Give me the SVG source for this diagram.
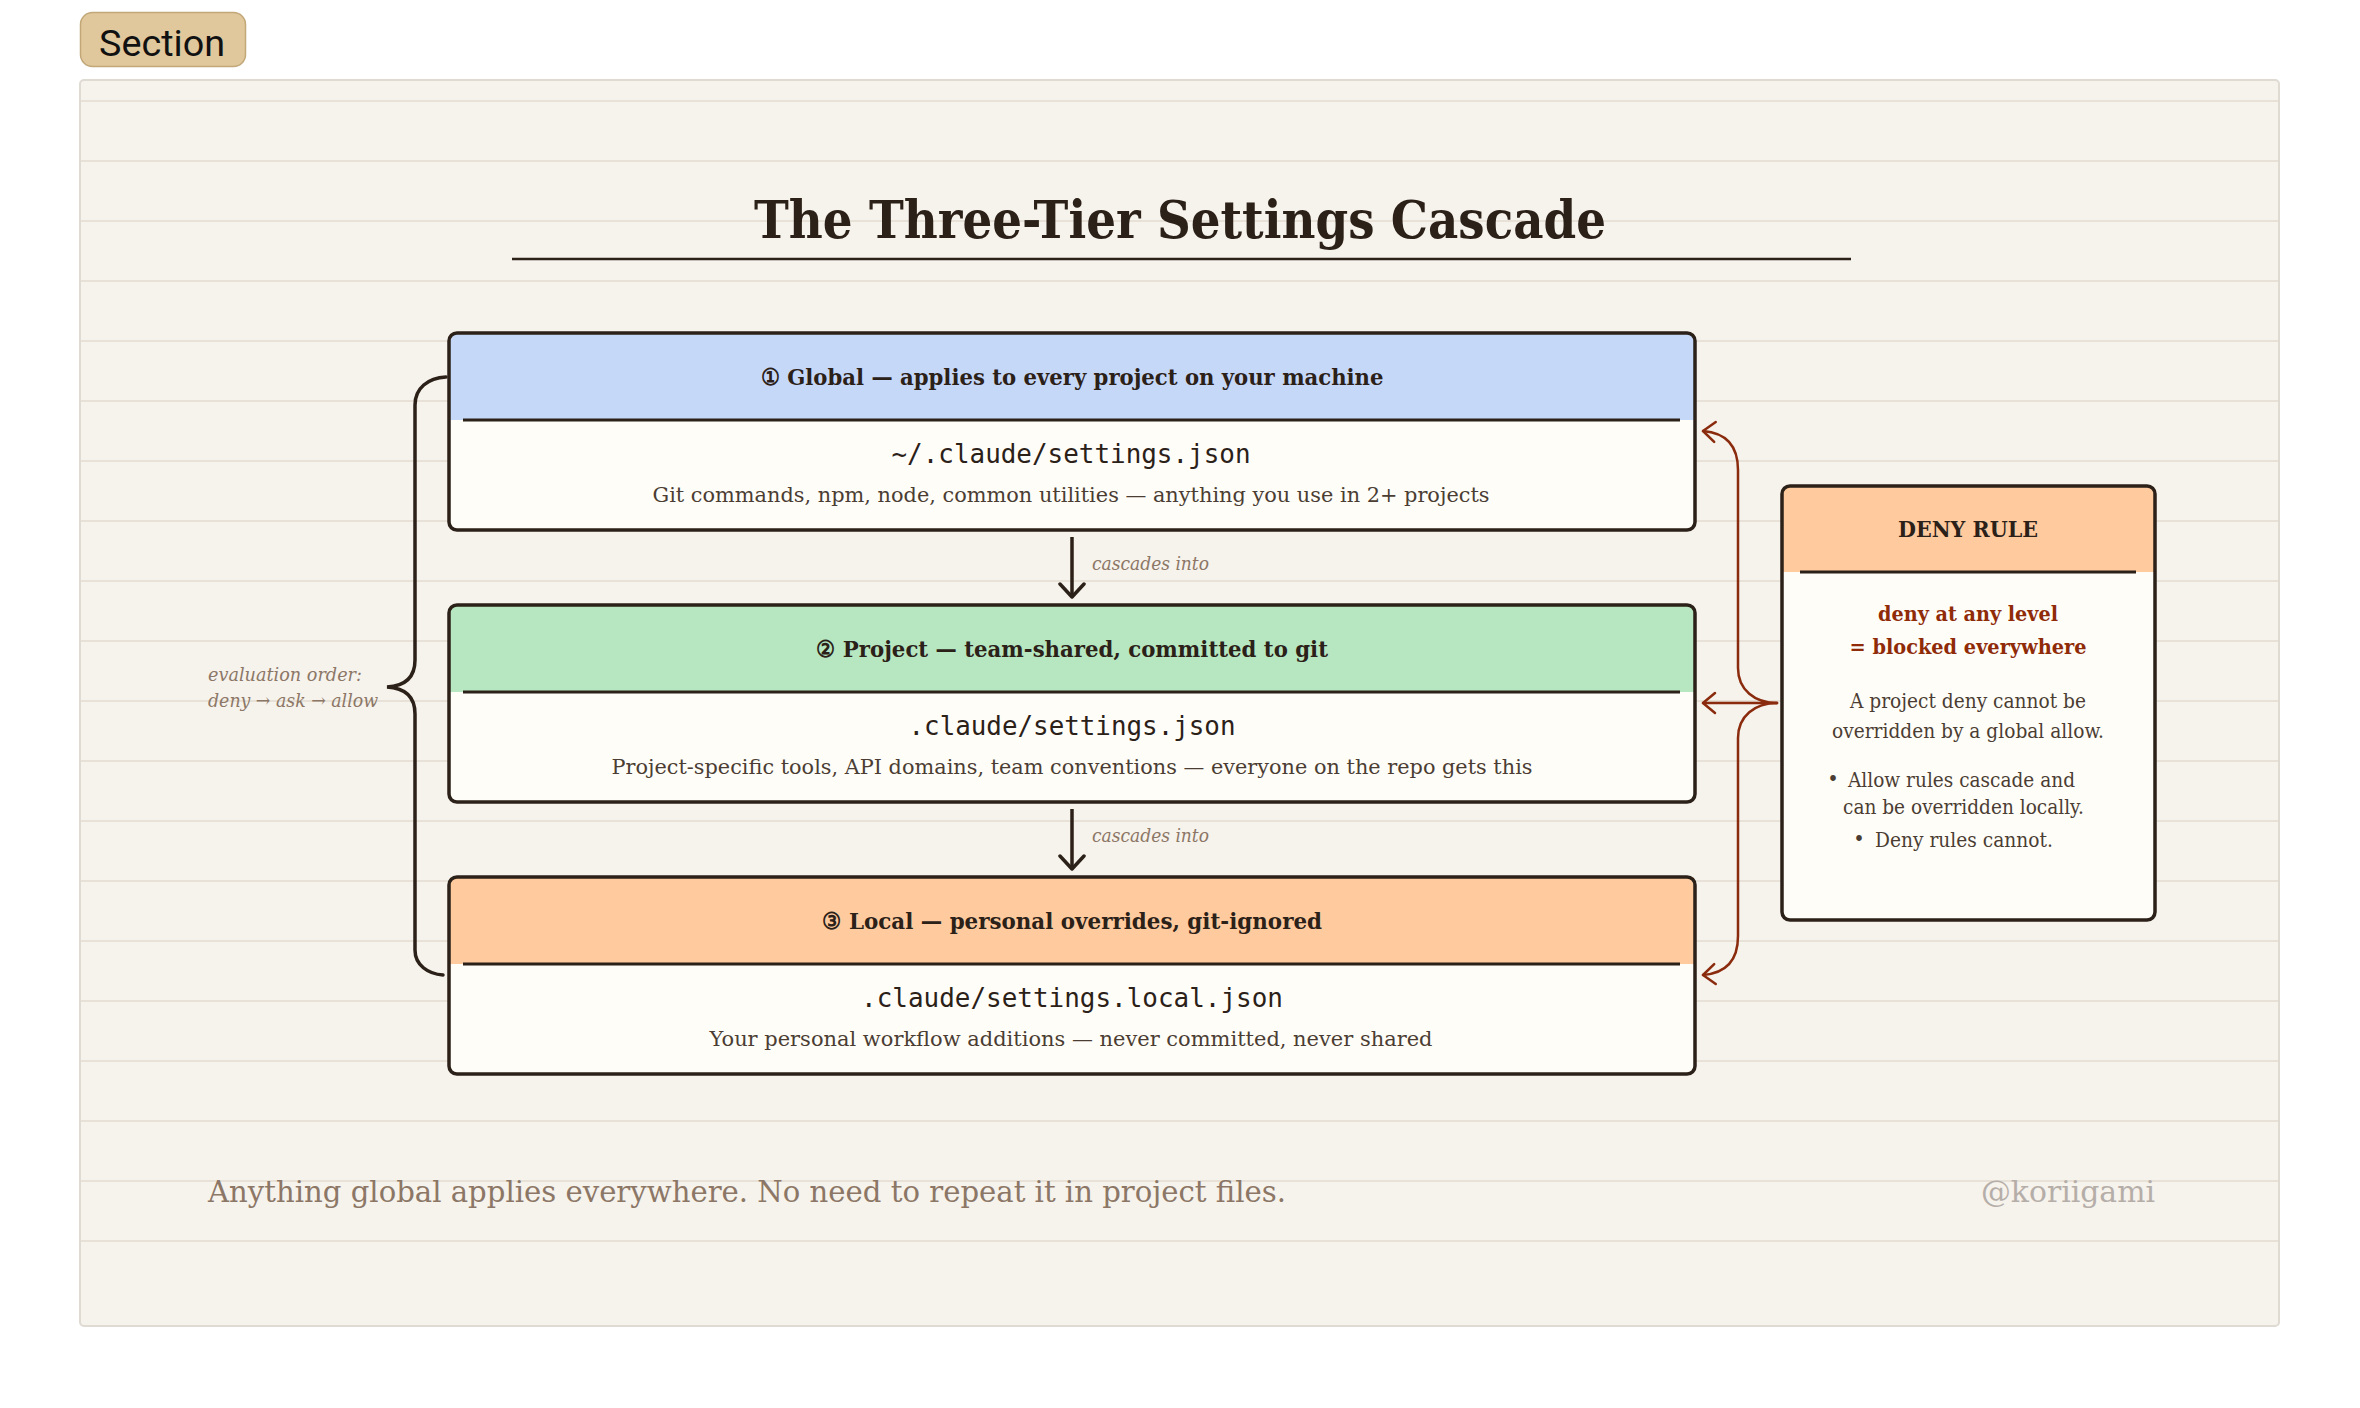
<svg xmlns="http://www.w3.org/2000/svg" width="2360" height="1408" viewBox="0 0 2360 1408">
<defs>
<style>
.serif{font-family:"DejaVu Serif","Liberation Serif",serif}
.mono{font-family:"DejaVu Sans Mono","Liberation Mono",monospace;font-size:26px;fill:#2b2118}
.grid{stroke:#e7e1d7;stroke-width:2}
.box{fill:none;stroke:#2b2118;stroke-width:3.5}
.body{fill:#fffdf8}
.div{stroke:#2b2118;stroke-width:2.8}
.hdr{font-family:"DejaVu Serif","Liberation Serif",serif;font-weight:bold;font-size:23px;fill:#2b2118}
.desc{font-family:"DejaVu Serif","Liberation Serif",serif;font-size:21px;fill:#4b3d33}
.muted{font-family:"DejaVu Serif","Liberation Serif",serif;font-style:italic;font-size:19px;fill:#8c7766}
.note{font-family:"DejaVu Serif","Liberation Serif",serif;font-size:19.5px;fill:#4b3d33}
.red{font-family:"DejaVu Serif","Liberation Serif",serif;font-weight:bold;font-size:21px;fill:#8f2b08}
</style>
<marker id="ah-dark" viewBox="-16 -14 20 28" refX="0" refY="0" markerWidth="20" markerHeight="28" markerUnits="userSpaceOnUse" orient="auto">
<path d="M-13,-12 L0,0 L-13,12" fill="none" stroke="#2b2118" stroke-width="3.5" stroke-linecap="round" stroke-linejoin="round"/>
</marker>
<marker id="ah-red" viewBox="-16 -13 20 26" refX="0" refY="0" markerWidth="20" markerHeight="26" markerUnits="userSpaceOnUse" orient="auto">
<path d="M-12,-10 L0,0 L-12,10" fill="none" stroke="#8a2b0d" stroke-width="2.5" stroke-linecap="round" stroke-linejoin="round"/>
</marker>
</defs>
<rect width="2360" height="1408" fill="#ffffff"/>

<g id="section-badge">
<rect x="80.5" y="12.5" width="165" height="54" rx="12" fill="#e0c89c" stroke="#c2a878" stroke-width="1.5"/>
<text x="162" y="56" text-anchor="middle" font-family="Roboto,'Liberation Sans',sans-serif" font-size="36" fill="#111111" textLength="126" lengthAdjust="spacingAndGlyphs">Section</text>
</g>

<g id="panel">
<rect x="80" y="80" width="2199" height="1246" rx="4" fill="#f6f2ec" stroke="#dfdad2" stroke-width="2"/>
<g class="grid">
<line x1="81" y1="101" x2="2278" y2="101"/><line x1="81" y1="161" x2="2278" y2="161"/><line x1="81" y1="221" x2="2278" y2="221"/><line x1="81" y1="281" x2="2278" y2="281"/><line x1="81" y1="341" x2="2278" y2="341"/><line x1="81" y1="401" x2="2278" y2="401"/><line x1="81" y1="461" x2="2278" y2="461"/><line x1="81" y1="521" x2="2278" y2="521"/><line x1="81" y1="581" x2="2278" y2="581"/><line x1="81" y1="641" x2="2278" y2="641"/><line x1="81" y1="701" x2="2278" y2="701"/><line x1="81" y1="761" x2="2278" y2="761"/><line x1="81" y1="821" x2="2278" y2="821"/><line x1="81" y1="881" x2="2278" y2="881"/><line x1="81" y1="941" x2="2278" y2="941"/><line x1="81" y1="1001" x2="2278" y2="1001"/><line x1="81" y1="1061" x2="2278" y2="1061"/><line x1="81" y1="1121" x2="2278" y2="1121"/><line x1="81" y1="1181" x2="2278" y2="1181"/><line x1="81" y1="1241" x2="2278" y2="1241"/>
</g>
</g>

<g id="title">
<text x="1180" y="238" text-anchor="middle" class="serif" font-weight="bold" font-size="53" fill="#2b2118" textLength="852" lengthAdjust="spacingAndGlyphs">The Three-Tier Settings Cascade</text>
<line x1="512" y1="259" x2="1851" y2="259" stroke="#2b2118" stroke-width="2.7"/>
</g>

<g id="connectors">
<line x1="1072" y1="537" x2="1072" y2="597" stroke="#2b2118" stroke-width="3.5" marker-end="url(#ah-dark)"/>
<text x="1092" y="570" class="muted" textLength="117" lengthAdjust="spacingAndGlyphs">cascades into</text>
<line x1="1072" y1="809" x2="1072" y2="869" stroke="#2b2118" stroke-width="3.5" marker-end="url(#ah-dark)"/>
<text x="1092" y="842" class="muted" textLength="117" lengthAdjust="spacingAndGlyphs">cascades into</text>
<path d="M446,377 C428,378 415,388 415,405 L415,660 C415,678 405,686 387,687 C405,688 415,696 415,714 L415,950 C415,965 428,974 443,975" fill="none" stroke="#2b2118" stroke-width="3.5" stroke-linecap="round"/>
<text x="208" y="681" class="muted" font-size="20" textLength="154" lengthAdjust="spacingAndGlyphs">evaluation order:</text>
<text x="208" y="707" class="muted" font-size="20" textLength="170" lengthAdjust="spacingAndGlyphs">deny → ask → allow</text>
<g fill="none" stroke="#8a2b0d" stroke-width="2.5" stroke-linecap="round">
<path d="M1777,703 C1755,703 1738,690 1738,668 L1738,470 C1738,448 1728,433 1703,431" marker-end="url(#ah-red)"/>
<path d="M1777,703 L1703,703" marker-end="url(#ah-red)"/>
<path d="M1777,703 C1755,703 1738,716 1738,738 L1738,936 C1738,958 1728,973 1703,975" marker-end="url(#ah-red)"/>
</g>
</g>

<g id="node-global">
<rect x="449" y="333" width="1246" height="197" rx="8" class="body"/>
<path d="M449,420 V341 Q449,333 457,333 H1687 Q1695,333 1695,341 V420 Z" fill="#c6d8f8"/>
<line x1="463" y1="420" x2="1680" y2="420" class="div"/>
<rect x="449" y="333" width="1246" height="197" rx="8" class="box"/>
<text x="1072" y="385" text-anchor="middle" class="hdr" textLength="623" lengthAdjust="spacingAndGlyphs">① Global — applies to every project on your machine</text>
<text x="1071" y="463" text-anchor="middle" class="mono" textLength="359" lengthAdjust="spacingAndGlyphs">~/.claude/settings.json</text>
<text x="1071" y="502" text-anchor="middle" class="desc" textLength="837" lengthAdjust="spacingAndGlyphs">Git commands, npm, node, common utilities — anything you use in 2+ projects</text>
</g>

<g id="node-project">
<rect x="449" y="605" width="1246" height="197" rx="8" class="body"/>
<path d="M449,692 V613 Q449,605 457,605 H1687 Q1695,605 1695,613 V692 Z" fill="#b6e7c1"/>
<line x1="463" y1="692" x2="1680" y2="692" class="div"/>
<rect x="449" y="605" width="1246" height="197" rx="8" class="box"/>
<text x="1072" y="657" text-anchor="middle" class="hdr" textLength="512" lengthAdjust="spacingAndGlyphs">② Project — team-shared, committed to git</text>
<text x="1072" y="735" text-anchor="middle" class="mono" textLength="327" lengthAdjust="spacingAndGlyphs">.claude/settings.json</text>
<text x="1072" y="774" text-anchor="middle" class="desc" textLength="921" lengthAdjust="spacingAndGlyphs">Project-specific tools, API domains, team conventions — everyone on the repo gets this</text>
</g>

<g id="node-local">
<rect x="449" y="877" width="1246" height="197" rx="8" class="body"/>
<path d="M449,964 V885 Q449,877 457,877 H1687 Q1695,877 1695,885 V964 Z" fill="#ffcb9e"/>
<line x1="463" y1="964" x2="1680" y2="964" class="div"/>
<rect x="449" y="877" width="1246" height="197" rx="8" class="box"/>
<text x="1072" y="929" text-anchor="middle" class="hdr" textLength="500" lengthAdjust="spacingAndGlyphs">③ Local — personal overrides, git-ignored</text>
<text x="1072" y="1007" text-anchor="middle" class="mono" textLength="422" lengthAdjust="spacingAndGlyphs">.claude/settings.local.json</text>
<text x="1071" y="1046" text-anchor="middle" class="desc" textLength="723" lengthAdjust="spacingAndGlyphs">Your personal workflow additions — never committed, never shared</text>
</g>

<g id="deny-rule">
<rect x="1782" y="486" width="373" height="434" rx="8" class="body"/>
<path d="M1782,572 V494 Q1782,486 1790,486 H2147 Q2155,486 2155,494 V572 Z" fill="#ffcb9e"/>
<line x1="1800" y1="572" x2="2136" y2="572" class="div"/>
<rect x="1782" y="486" width="373" height="434" rx="8" class="box"/>
<text x="1968" y="537" text-anchor="middle" class="hdr" textLength="140" lengthAdjust="spacingAndGlyphs">DENY RULE</text>
<text x="1968" y="621" text-anchor="middle" class="red" textLength="180" lengthAdjust="spacingAndGlyphs">deny at any level</text>
<text x="1968" y="654" text-anchor="middle" class="red" textLength="237" lengthAdjust="spacingAndGlyphs">= blocked everywhere</text>
<text x="1968" y="708" text-anchor="middle" class="note" textLength="236" lengthAdjust="spacingAndGlyphs">A project deny cannot be</text>
<text x="1968" y="738" text-anchor="middle" class="note" textLength="272" lengthAdjust="spacingAndGlyphs">overridden by a global allow.</text>
<text x="1833" y="786" text-anchor="middle" class="note" font-size="14">•</text>
<text x="1848" y="787" class="note" textLength="227" lengthAdjust="spacingAndGlyphs">Allow rules cascade and</text>
<text x="1843" y="814" class="note" textLength="241" lengthAdjust="spacingAndGlyphs">can be overridden locally.</text>
<text x="1859" y="846" text-anchor="middle" class="note" font-size="14">•</text>
<text x="1875" y="847" class="note" textLength="178" lengthAdjust="spacingAndGlyphs">Deny rules cannot.</text>
</g>

<g id="footer">
<text x="208" y="1202" class="serif" font-size="30" fill="#8c7766" textLength="1078" lengthAdjust="spacingAndGlyphs">Anything global applies everywhere. No need to repeat it in project files.</text>
<text x="2155" y="1202" text-anchor="end" class="serif" font-size="30" fill="#b5aea8" textLength="174" lengthAdjust="spacingAndGlyphs">@koriigami</text>
</g>
</svg>
